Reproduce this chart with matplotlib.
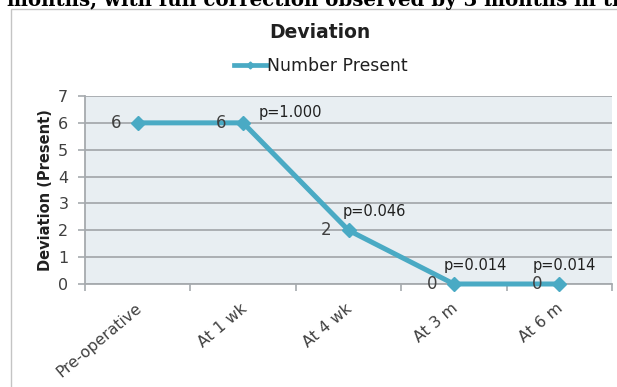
import matplotlib
matplotlib.use("Agg")
import matplotlib.pyplot as plt
from matplotlib.lines import Line2D
from matplotlib.patches import Rectangle
from matplotlib.transforms import ScaledTranslation

# ---- data ----
categories = ["Pre-operative", "At 1 wk", "At 4 wk", "At 3 m", "At 6 m"]
values = [6, 6, 2, 0, 0]
p_labels = ["", "p=1.000", "p=0.046", "p=0.014", "p=0.014"]
series_name = "Number Present"
title = "Deviation"
y_label = "Deviation (Present)"
y_ticks = [0, 1, 2, 3, 4, 5, 6, 7]
caption_fragment = "months, with full correction observed by 3 months in the"

# ---- styles / positions (points) ----
p_offsets = [(0, 0), (11.5, 7.5), (-4.5, 13.5), (-7.5, 13.5), (-19.5, 13.5)]
LINE_COLOR = "#4aaac4"
GRID_COLOR = "#a6aaae"
BG_COLOR = "#e8eef2"
TXT = "#404040"
FONT = "DejaVu Sans"

W, H = 617, 387
fig = plt.figure(figsize=(W / 100, H / 100), dpi=100)
fig.patch.set_facecolor("white")

# outer chart border (only left and top visible)
fig.patches.append(Rectangle((11 / W, -0.1), 1.2, 1.1 - 9 / H,
                             transform=fig.transFigure, fill=False,
                             edgecolor="#c4c4c4", linewidth=1.0))

# cut-off caption text at very top
fig.text(7 / W, 1 - 6 / H, caption_fragment, ha="left", va="baseline",
         fontsize=14.2, fontweight="bold", family="DejaVu Serif", color="black")

ax = fig.add_axes([85 / W, 1 - 284 / H, 527 / W, 188 / H])
ax.set_facecolor(BG_COLOR)

x = list(range(len(categories)))
ax.plot(x, values, color=LINE_COLOR, linewidth=3.6, marker="D",
        markersize=6.8, markerfacecolor=LINE_COLOR, markeredgecolor=LINE_COLOR,
        zorder=3, clip_on=False, solid_joinstyle="miter")

ax.set_xlim(-0.5, len(categories) - 0.5)
ax.set_ylim(0, 7)
ax.set_yticks(y_ticks)
ax.set_yticklabels([str(t) for t in y_ticks])
ax.yaxis.grid(True, color=GRID_COLOR, linewidth=1.3)
ax.set_axisbelow(True)

ax.set_xticks(x)
ax.set_xticklabels(categories, rotation=40, ha="right", va="top",
                   rotation_mode="anchor")
ax.set_xticks([i - 0.5 for i in range(len(categories) + 1)], minor=True)
ax.tick_params(axis="x", which="major", length=0, pad=12, labelsize=11.3,
               labelcolor=TXT)
ax.tick_params(axis="x", which="minor", length=5, width=1.2, color=GRID_COLOR)
ax.tick_params(axis="y", length=5, width=1.2, color=GRID_COLOR, pad=7,
               labelsize=11.5, labelcolor=TXT)
shift = ScaledTranslation(-3 / 100, 0, fig.dpi_scale_trans)
for lbl in ax.get_xticklabels():
    lbl.set_family(FONT)
    lbl.set_transform(lbl.get_transform() + shift)
for lbl in ax.get_yticklabels():
    lbl.set_family(FONT)

for s in ["top", "right"]:
    ax.spines[s].set_visible(False)
for s in ["left", "bottom"]:
    ax.spines[s].set_color(GRID_COLOR)
    ax.spines[s].set_linewidth(1.3)

ax.set_ylabel(y_label, fontsize=10.5, fontweight="bold", family=FONT,
              color="#202020", labelpad=4)

# data labels
for xi, v, p, off in zip(x, values, p_labels, p_offsets):
    ax.annotate(str(v), (xi, v), xytext=(-12, 0), textcoords="offset points",
                ha="right", va="center", fontsize=12, color=TXT, family=FONT,
                annotation_clip=False)
    if p:
        ax.annotate(p, (xi, v), xytext=off, textcoords="offset points",
                    ha="left", va="center", fontsize=10.5, color="#202020",
                    family=FONT, annotation_clip=False)

# title
fig.text(320 / W, 1 - 32 / H, title, ha="center", va="center", fontsize=13.5,
         fontweight="bold", family=FONT, color="#202020")

# legend
handle = Line2D([], [], color=LINE_COLOR, linewidth=3.4, marker="D",
                markersize=3.5)
fig.legend([handle], [series_name], loc="center",
           bbox_to_anchor=(321 / W, 1 - 66 / H), frameon=False,
           prop={"family": FONT, "size": 12.4}, handlelength=1.9,
           handletextpad=0.05, labelcolor="#202020")

fig.savefig("out.png", dpi=100, facecolor="white")
